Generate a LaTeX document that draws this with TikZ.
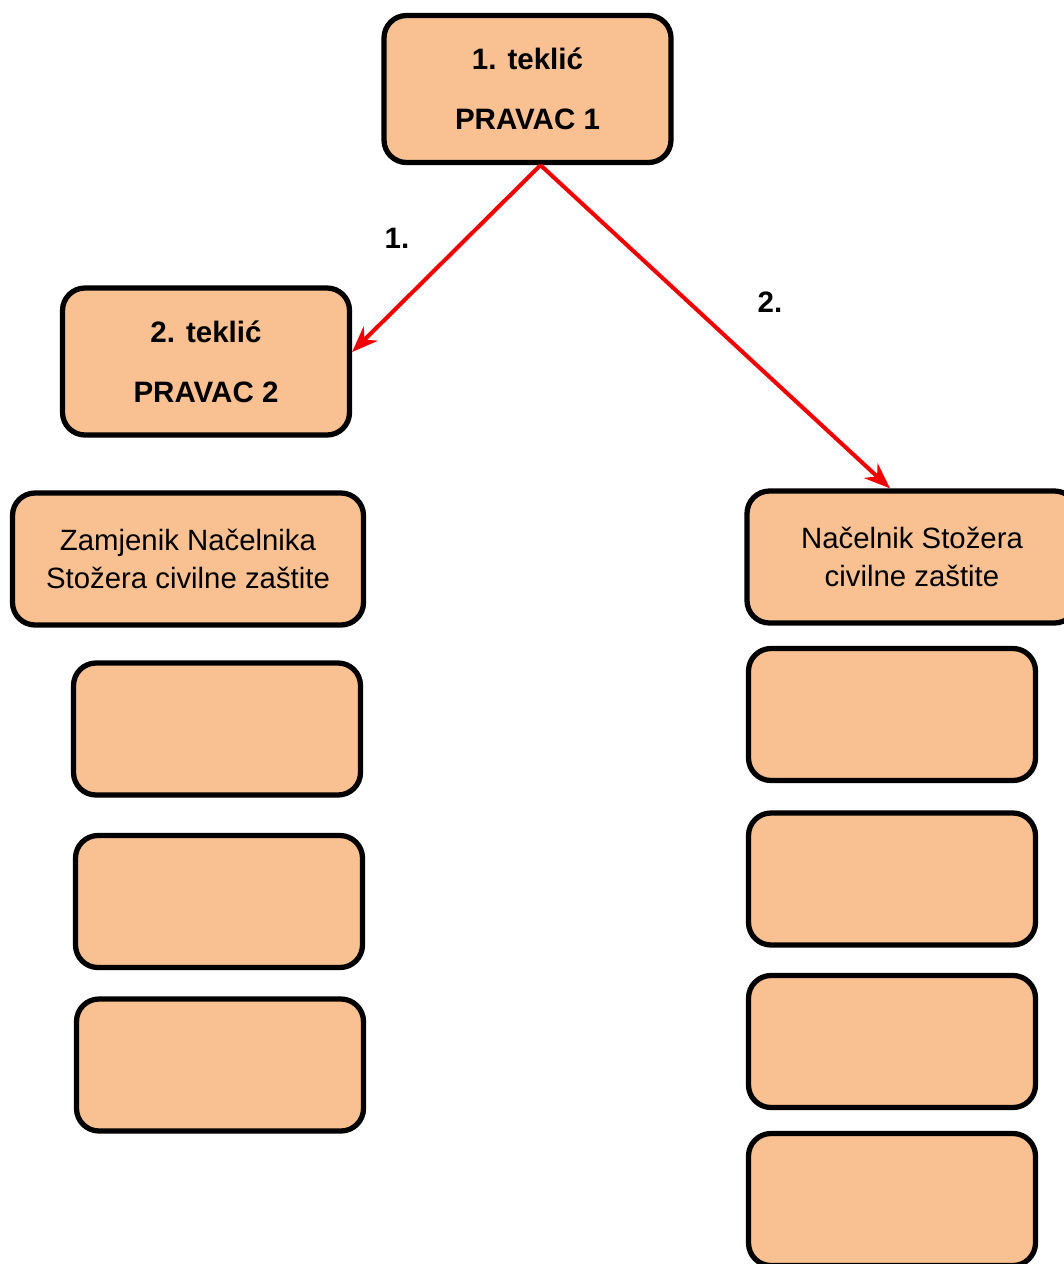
\documentclass[tikz,border=0pt]{standalone}
\usepackage{fontspec}
\setmainfont{Liberation Sans}
\usetikzlibrary{arrows.meta}
\definecolor{boxfill}{RGB}{249,193,145}
\definecolor{arrowred}{RGB}{240,0,0}
\begin{document}
\begin{tikzpicture}
    [box/.style={draw=black,line width=3pt,fill=boxfill,rounded corners=0.45cm,
        align=center,font=\fontsize{16.7}{22}\selectfont,inner sep=0pt},
    messenger/.style={box,minimum width=5.74cm,minimum height=2.94cm,font=\fontsize{16.8}{22}\selectfont\bfseries},
    slot/.style={box,minimum width=5.74cm,minimum height=2.64cm},
    route/.style={-{Stealth[length=0.52cm,width=0.4cm]},line width=2.3pt,arrowred},
    step label/.style={font=\fontsize{16.8}{20}\selectfont\bfseries}]

    \useasboundingbox (0,0) rectangle (21.28,-25.28);

    % messengers
    \node[messenger] (teklic1) at (10.55,-1.78) {1. teklić\\[12pt]PRAVAC 1};
    \node[messenger] (teklic2) at (4.12,-7.23) {2. teklić\\[12pt]PRAVAC 2};

    % left column
    \node[slot,minimum width=7.02cm] (zamjenik) at (3.76,-11.18) {Zamjenik Načelnika\\Stožera civilne zaštite};
    \node[slot] (lempty1) at (4.34,-14.58) {};
    \node[slot] (lempty2) at (4.38,-18.03) {};
    \node[slot] (lempty3) at (4.40,-21.30) {};

    % right column
    \node[slot,minimum width=6.6cm] (nacelnik) at (18.24,-11.14) {Načelnik Stožera\\civilne zaštite};
    \node[slot] (rempty1) at (17.84,-14.29) {};
    \node[slot] (rempty2) at (17.84,-17.58) {};
    \node[slot] (rempty3) at (17.84,-20.83) {};
    \node[slot] (rempty4) at (17.84,-23.99) {};

    % routes
    \coordinate (fork) at ([xshift=0.26cm]teklic1.south);
    \draw[route] (fork) -- ([yshift=0.19cm]teklic2.east);
    \draw[route] (fork) -- ([xshift=-0.44cm]nacelnik.north);
    \node[step label] (first) at (7.94,-4.76) {1.};
    \node[step label] (second) at (15.40,-6.04) {2.};

\end{tikzpicture}
\end{document}
